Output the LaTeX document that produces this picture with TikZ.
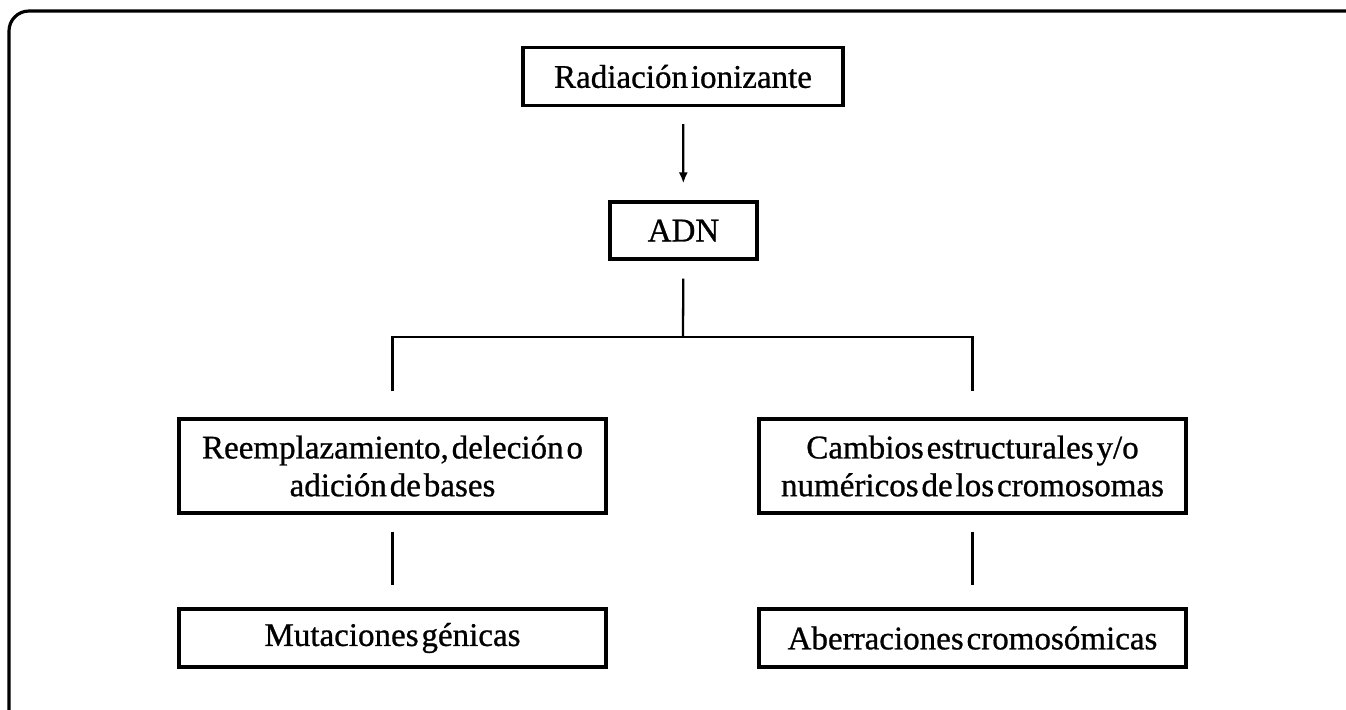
\documentclass[tikz,border=0pt]{standalone}
\usepackage{fontspec}
\setmainfont{Liberation Serif}[WordSpace=0.35, FakeBold=0.8]
\usetikzlibrary{arrows.meta}
\begin{document}
\begin{tikzpicture}[
        x=0.02cm, y=-0.02cm,
        box/.style={rectangle, draw, line width=1.8pt, align=center, inner sep=0pt,
            font=\fontsize{18.8}{21.5}\selectfont, minimum height=1.16cm},
        link/.style={line width=1.3pt},
        frame/.style={line width=1.8pt, rounded corners=0.4cm}
    ]
        \useasboundingbox (0,0) rectangle (1346,710);

        % Frame
        \draw[frame] (9,712) -- (9,11) -- (1350,11);

        % Boxes
        \node[box, minimum width=6.4cm] (rad) at (683,76.5) {Radiación ionizante};
        \node[box, minimum width=2.94cm, minimum height=1.14cm] (adn) at (683.5,230.5) {ADN};
        \node[box, minimum width=8.54cm, minimum height=1.88cm] (reem) at (392.5,466) {Reemplazamiento, deleción o\\adición de bases};
        \node[box, minimum width=8.54cm, minimum height=1.88cm] (camb) at (972.5,466) {Cambios estructurales y/o\\numéricos de los cromosomas};
        \node[box, minimum width=8.54cm] (mut) at (392.5,638) {Mutaciones génicas};
        \node[box, minimum width=8.54cm] (aber) at (972.5,638) {Aberraciones cromosómicas};

        \coordinate (fork) at (683,337);

        \draw[link, -{Latex[length=0.22cm, width=0.18cm]}, shorten <=0.34cm, shorten >=0.34cm] (rad) -- (adn);
        \draw[link, shorten <=0.36cm] (adn) -- (fork);
        \draw[link, shorten <=0.52cm, shorten >=0.52cm] (reem.north) -- (fork -| reem.north) -- (fork -| camb.north) -- (camb.north);
        \draw[link, shorten <=0.34cm, shorten >=0.44cm] (reem) -- (mut);
        \draw[link, shorten <=0.34cm, shorten >=0.44cm] (camb) -- (aber);
    \end{tikzpicture}
\end{document}
